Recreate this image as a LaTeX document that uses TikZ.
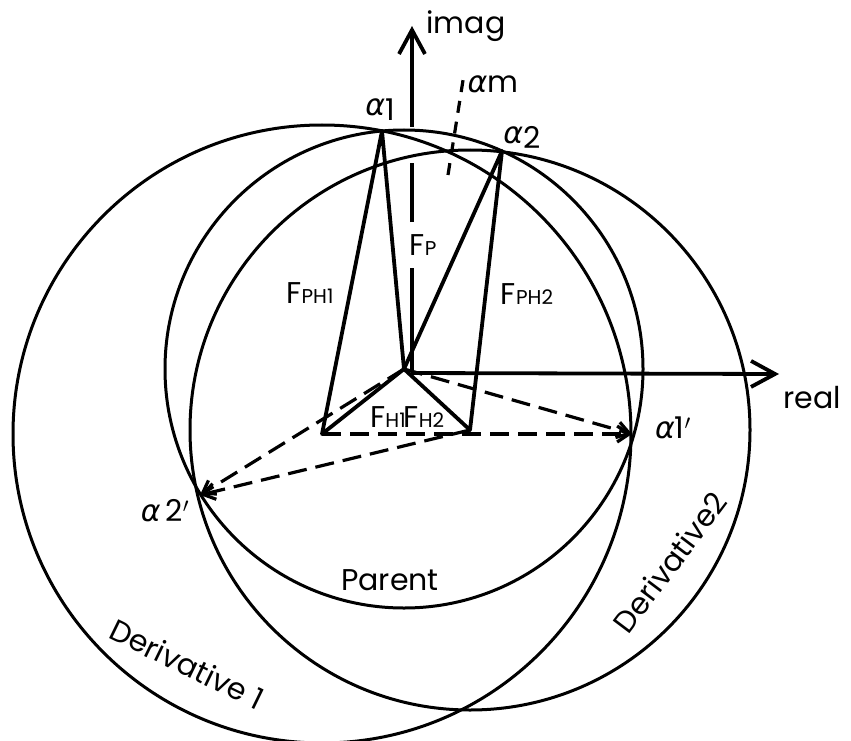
\documentclass[tikz,border=0pt]{standalone}
\usepackage{fontspec}
\setmainfont{Poppins}
\newfontfamily\grk{DejaVu Sans}
\usetikzlibrary{arrows.meta}
\tikzset{
  harker/circle/.style={line width=3pt},
  harker/vec/.style={line width=3.8pt, line join=round},
  harker/axis/.style={line width=3.8pt},
  harker/axisarr/.style={harker/axis, -{Straight Barb[length=24pt,width=26pt]}},
  harker/dash/.style={line width=3.2pt, dash pattern=on 19pt off 9pt, -{Straight Barb[length=12pt,width=16pt]}},
  harker/mid/.style={line width=3.2pt, dash pattern=on 12pt off 9pt},
  harker/lab/.style={font=\fontsize{30}{32}\selectfont, inner sep=1pt}
}
\newcommand{\capsub}[1]{{\fontsize{20}{22}\selectfont #1}}
\newcommand{\alp}{{\grk\itshape α}}

\begin{document}
\begin{tikzpicture}[x=1pt, y=-1pt]
  \useasboundingbox (0,0) rectangle (851,741);
  \coordinate (O) at (404,369);
  \coordinate (H1) at (322,434);
  \coordinate (H2) at (470,430);
  \coordinate (a1) at (382,131);
  \coordinate (a2) at (502,151);
  \coordinate (a1p) at (632,434);
  \coordinate (a2p) at (200,495);
  \coordinate (ax) at (411,373);
  \coordinate (re) at (779,374);
  \coordinate (im0) at (412,372);
  \coordinate (im1) at (412,268);
  \coordinate (im2) at (412,222);
  \coordinate (im3) at (412,163);
  \coordinate (im4) at (412,127);
  \coordinate (im5) at (412,26);
  \coordinate (am0) at (448,175);
  \coordinate (am1) at (464,74);

  \draw[harker/circle] (O) circle[radius=239pt];
  \draw[harker/circle] (H1) circle[radius=309pt];
  \draw[harker/circle] (H2) circle[radius=280pt];

  \draw[harker/vec] (O) -- (H1) -- (a1) -- cycle;
  \draw[harker/vec] (O) -- (H2) -- (a2) -- cycle;

  \draw[harker/axisarr] (ax) -- (re);
  \draw[harker/axis] (im0) -- (im1);
  \draw[harker/axis] (im2) -- (im3);
  \draw[harker/axisarr] (im4) -- (im5);
  \draw[harker/mid] (am0) -- (am1);

  \draw[harker/dash] (O) -- (a1p);
  \draw[harker/dash] (H1) -- (a1p);
  \draw[harker/dash] (O) -- (a2p);
  \draw[harker/dash] (H2) -- (a2p);

  \node[harker/lab] (limag) at (466,26) {imag};
  \node[harker/lab] (lreal) at (812,398) {real};
  \node[harker/lab] (la1) at (380,110) {\alp\lower5pt\hbox{1}};
  \node[harker/lab] (la2) at (522,137) {\alp\lower5pt\hbox{2}};
  \node[harker/lab] (la1p) at (673,428) {\alp1$'$};
  \node[harker/lab] (la2p) at (165,511) {\alp\,2$'$};
  \node[harker/lab] (lam) at (493,84) {\alp m};
  \node[harker/lab] (lfp) at (423,245) {F\capsub{P}};
  \node[harker/lab] (lfph1) at (310,293) {F\capsub{PH1}};
  \node[harker/lab] (lfph2) at (527,294) {F\capsub{PH2}};
  \node[harker/lab] (lfh1) at (388,417) {F\capsub{H1}};
  \node[harker/lab] (lfh2) at (424,417) {F\capsub{H2}};
  \node[harker/lab] (lpar) at (390,580) {Parent};
  \node[harker/lab, rotate=-26] (ld1) at (187,664) {Derivative 1};
  \node[harker/lab, rotate=53] (ld2) at (670,562) {Derivative2};
\end{tikzpicture}
\end{document}
